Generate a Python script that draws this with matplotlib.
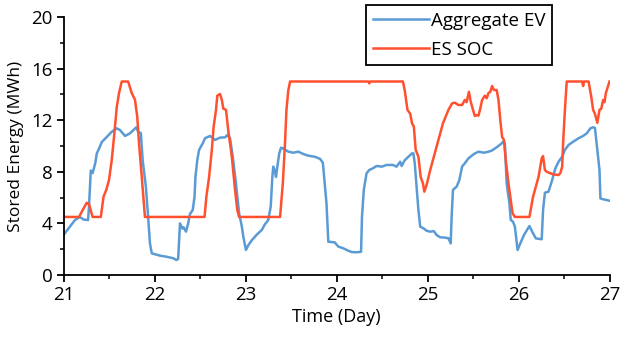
import matplotlib
matplotlib.use("Agg")
import matplotlib.pyplot as plt
from matplotlib.ticker import MultipleLocator

# Aggregate EV stored energy
ev_day = [21.00, 21.07, 21.126, 21.18, 21.22, 21.27, 21.28, 21.30, 21.32, 21.35, 21.365, 21.40, 21.42,
          21.475, 21.53, 21.585, 21.62, 21.676, 21.73, 21.80, 21.82, 21.85, 21.87, 21.905, 21.93, 21.95,
          21.97, 22.06, 22.13, 22.21, 22.24, 22.26, 22.28, 22.306, 22.32, 22.346, 22.37, 22.39, 22.42,
          22.44, 22.45, 22.47, 22.49, 22.51, 22.53, 22.555, 22.61, 22.665, 22.72, 22.775, 22.80, 22.83,
          22.86, 22.895, 22.93, 22.96, 22.976, 23.005, 23.03, 23.07, 23.12, 23.18, 23.21, 23.25, 23.277,
          23.295, 23.305, 23.32, 23.335, 23.35, 23.37, 23.39, 23.415, 23.47, 23.525, 23.58, 23.635, 23.69,
          23.76, 23.82, 23.85, 23.87, 23.89, 23.91, 23.98, 24.02, 24.075, 24.13, 24.167, 24.22, 24.27,
          24.28, 24.30, 24.33, 24.36, 24.40, 24.44, 24.50, 24.55, 24.62, 24.66, 24.70, 24.716, 24.75,
          24.79, 24.83, 24.845, 24.86, 24.88, 24.90, 24.92, 24.955, 24.99, 25.03, 25.07, 25.10, 25.14,
          25.19, 25.23, 25.255, 25.265, 25.28, 25.32, 25.35, 25.38, 25.41, 25.45, 25.51, 25.56, 25.62,
          25.67, 25.705, 25.76, 25.815, 25.83, 25.85, 25.87, 25.90, 25.915, 25.94, 25.96, 25.99, 26.02,
          26.06, 26.12, 26.15, 26.19, 26.255, 26.27, 26.29, 26.33, 26.37, 26.405, 26.44, 26.48, 26.51,
          26.55, 26.60, 26.66, 26.71, 26.75, 26.79, 26.82, 26.84, 26.866, 26.89, 26.90, 26.93, 27.00]
ev_val = [3.1, 3.75, 4.26, 4.5, 4.3, 4.26, 5.3, 8.1, 7.9, 8.7, 9.4, 9.95, 10.3,
          10.7, 11.1, 11.37, 11.24, 10.78, 10.98, 11.45, 11.1, 11.0, 8.9, 6.85, 4.5, 2.45,
          1.68, 1.5, 1.42, 1.29, 1.16, 1.25, 4.0, 3.6, 3.7, 3.36, 4.0, 4.73, 5.04,
          6.07, 7.6, 8.9, 9.7, 9.95, 10.2, 10.6, 10.78, 10.47, 10.65, 10.67, 10.85, 10.6,
          9.17, 7.1, 4.78, 3.75, 2.97, 1.94, 2.3, 2.7, 3.1, 3.5, 3.9, 4.26, 5.3,
          7.6, 8.4, 8.14, 7.6, 8.4, 9.4, 9.87, 9.8, 9.56, 9.48, 9.56, 9.38, 9.25,
          9.17, 9.0, 8.7, 7.1, 5.56, 2.58, 2.53, 2.2, 2.07, 1.88, 1.78, 1.76, 1.8,
          4.5, 6.6, 7.88, 8.14, 8.27, 8.45, 8.4, 8.53, 8.53, 8.4, 8.78, 8.45, 8.9,
          9.17, 9.43, 9.43, 8.66, 6.85, 5.04, 3.75, 3.62, 3.43, 3.36, 3.4, 3.1, 2.92,
          2.9, 2.85, 2.45, 4.5, 6.6, 6.85, 7.36, 8.4, 8.66, 9.04, 9.38, 9.56, 9.48,
          9.56, 9.64, 9.9, 10.2, 10.33, 10.2, 7.1, 5.56, 4.26, 4.13, 3.75, 1.94, 2.45,
          3.1, 3.8, 3.36, 2.84, 2.77, 5.04, 6.38, 6.46, 7.36, 8.27, 8.78, 9.17, 9.7,
          10.08, 10.33, 10.6, 10.78, 10.98, 11.37, 11.45, 11.4, 9.7, 8.14, 5.94, 5.87, 5.76]

# Energy storage state of charge
es_day = [21.00, 21.17, 21.255, 21.28, 21.32, 21.41, 21.44, 21.47, 21.50, 21.53, 21.555, 21.585, 21.61,
          21.64, 21.71, 21.75, 21.785, 21.81, 21.83, 21.86, 21.895, 22.55, 22.57, 22.60, 22.63, 22.65,
          22.676, 22.69, 22.72, 22.74, 22.756, 22.786, 22.81, 22.85, 22.885, 22.91, 22.93, 23.38, 23.41,
          23.434, 23.45, 23.47, 23.49, 24.35, 24.36, 24.37, 24.73, 24.75, 24.78, 24.81, 24.83, 24.85,
          24.87, 24.90, 24.925, 24.95, 24.965, 24.99, 25.03, 25.10, 25.17, 25.23, 25.27, 25.30, 25.34,
          25.38, 25.41, 25.43, 25.455, 25.475, 25.50, 25.52, 25.54, 25.56, 25.58, 25.60, 25.63, 25.65,
          25.67, 25.69, 25.71, 25.73, 25.76, 25.78, 25.80, 25.82, 25.84, 25.86, 25.89, 25.915, 25.935,
          25.96, 26.12, 26.16, 26.22, 26.255, 26.27, 26.29, 26.31, 26.38, 26.44, 26.46, 26.48, 26.49,
          26.51, 26.53, 26.70, 26.71, 26.72, 26.77, 26.80, 26.82, 26.84, 26.866, 26.89, 26.91, 26.93,
          26.945, 26.96, 27.00]
es_val = [4.5, 4.5, 5.6, 5.5, 4.5, 4.5, 6.07, 6.6, 7.36, 8.9, 10.7, 13.0, 14.1,
          15.0, 15.0, 14.1, 13.6, 12.3, 10.2, 7.6, 4.5, 4.5, 6.07, 7.6, 9.7, 11.5,
          12.8, 13.9, 14.03, 13.57, 12.9, 12.8, 11.24, 9.17, 6.6, 5.04, 4.5, 4.5, 7.1,
          10.2, 12.8, 14.3, 15.0, 15.0, 14.85, 15.0, 15.0, 14.3, 12.8, 12.5, 11.76, 11.5,
          9.7, 9.17, 7.6, 7.1, 6.46, 6.98, 8.14, 9.95, 11.76, 12.8, 13.3, 13.36, 13.18,
          13.18, 13.57, 13.4, 14.2, 13.43, 12.8, 12.33, 12.4, 12.35, 12.9, 13.57, 13.9, 13.7,
          14.1, 14.2, 14.65, 14.34, 14.34, 13.57, 12.0, 10.7, 10.47, 8.9, 7.1, 5.8, 4.78,
          4.5, 4.5, 6.07, 7.6, 9.04, 9.22, 8.14, 8.0, 7.8, 7.75, 7.9, 8.4, 10.2,
          12.8, 15.0, 15.0, 14.65, 15.0, 15.0, 13.8, 12.8, 12.5, 11.8, 12.8, 12.9, 13.57,
          13.4, 14.1, 15.0]

x_ticks = [21, 22, 23, 24, 25, 26, 27]
y_ticks = [0, 4, 8, 12, 16, 20]

FONT = ["Open Sans", "DejaVu Sans"]
plt.rcParams["font.family"] = FONT

fig = plt.figure(figsize=(6.2, 3.41), dpi=100)
ax = fig.add_axes([63.5 / 620, 66 / 341, 546 / 620, 258 / 341])

ax.plot(ev_day, ev_val, color="#5B9BD5", lw=1.8, label="Aggregate EV")
ax.plot(es_day, es_val, color="#FF5030", lw=1.8, label="ES SOC")

ax.set_xlim(21, 27)
ax.set_ylim(0, 20)
ax.set_xticks(x_ticks)
ax.set_yticks(y_ticks)
ax.xaxis.set_minor_locator(MultipleLocator(0.5))
ax.yaxis.set_minor_locator(MultipleLocator(2))
for s in ["top", "right"]:
    ax.spines[s].set_visible(False)
for s in ["left", "bottom"]:
    ax.spines[s].set_linewidth(1.3)
ax.tick_params(which="major", direction="out", length=5, width=1.3, labelsize=13.5, pad=3)
ax.tick_params(which="minor", direction="out", length=3, width=1.1)

ax.set_xlabel("Time (Day)", fontsize=13, labelpad=3)
ax.set_ylabel("Stored Energy (MWh)", fontsize=12.5, labelpad=5)

leg = ax.legend(loc="upper left", bbox_to_anchor=(366 / 620, 1 - 5 / 341),
                bbox_transform=fig.transFigure, fontsize=13.5, frameon=True,
                fancybox=False, edgecolor="black", framealpha=1, borderaxespad=0,
                handlelength=3.0, handletextpad=0.1, borderpad=0.35, labelspacing=0.6)
leg.get_frame().set_linewidth(1.3)

fig.savefig("out.png", dpi=100)
